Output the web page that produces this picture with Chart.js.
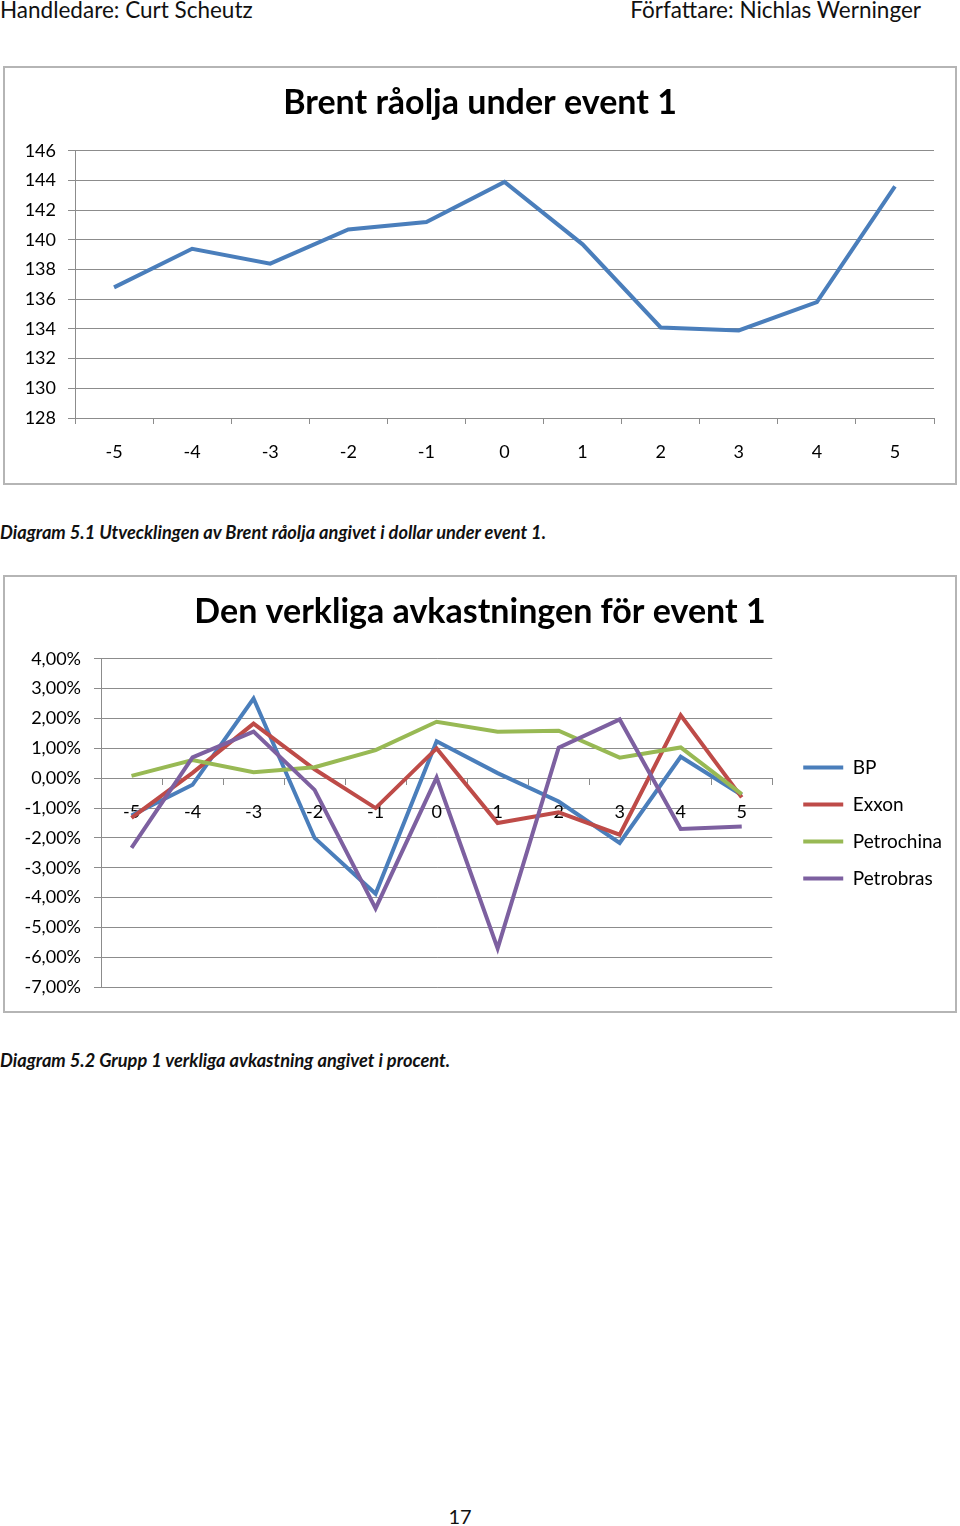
<!DOCTYPE html>
<html>
<head>
<meta charset="utf-8">
<script src="https://cdn.jsdelivr.net/npm/chart.js@4.4.0/dist/chart.umd.min.js"></script>
<style>
  body { margin: 0; background: #fff; font-family: Lato, sans-serif; color: #111; }
  .page { position: relative; width: 960px; height: 1526px; overflow: hidden; }
  .hdr { position: absolute; top: -1px; font-size: 22.5px; line-height: 22px; }
  .box { position: absolute; left: 3px; width: 954px; border: 2px solid #b5b5b5; box-sizing: border-box; }
  .box canvas { display: block; }
  .cap { position: absolute; left: 0; font-style: italic; font-weight: bold; font-size: 18.2px; line-height: 20px; }
  .pnum { position: absolute; left: 430px; width: 60px; text-align: center; top: 1505px; font-size: 20px; line-height: 22px; }
</style>
</head>
<body>
<div class="page">
  <div class="hdr" style="left:0">Handledare: Curt Scheutz</div>
  <div class="hdr" style="right:39px">Författare: Nichlas Werninger</div>

  <div class="box" style="top:66px;height:419px"><canvas id="brent" width="950" height="415"></canvas></div>
  <div class="cap" style="top:522px">Diagram 5.1 Utvecklingen av Brent råolja angivet i dollar under event 1.</div>

  <div class="box" style="top:575px;height:438px"><canvas id="returns" width="950" height="434"></canvas></div>
  <div class="cap" style="top:1050px">Diagram 5.2 Grupp 1 verkliga avkastning angivet i procent.</div>

  <div class="pnum">17</div>
</div>

<script>
// event days
var days = ["-5", "-4", "-3", "-2", "-1", "0", "1", "2", "3", "4", "5"];

// Brent crude, dollar
var brent = [136.8, 139.4, 138.4, 140.7, 141.2, 143.9, 139.7, 134.1, 133.9, 135.8, 143.6];

// actual returns, percent
var bp         = [-1.25, -0.22, 2.67, -2.00, -3.87, 1.24, 0.17, -0.78, -2.17, 0.72, -0.56];
var exxon      = [-1.33, 0.18, 1.83, 0.30, -1.00, 1.00, -1.50, -1.14, -1.89, 2.11, -0.64];
var petrochina = [0.08, 0.61, 0.20, 0.37, 0.94, 1.89, 1.56, 1.59, 0.69, 1.03, -0.53];
var petrobras  = [-2.33, 0.70, 1.56, -0.39, -4.36, 0.02, -5.70, 1.02, 1.97, -1.70, -1.62];

var gridGray = "#8c8c8c";
var tickFont = { family: "Lato", size: 18 };
var titleFont = { family: "Lato", size: 34, weight: "bold" };

Chart.defaults.color = "#000";
Chart.defaults.font.family = "Lato";

// invisible axis used only to reserve some room
function spacer(w) {
    return {
        position: "right",
        display: true,
        grid: { display: false },
        border: { display: false },
        ticks: { display: false },
        afterFit: function(s) { s.width = w; }
    };
}

new Chart(document.getElementById("brent"), {
    type: "line",
    data: {
        labels: days,
        datasets: [{
            data: brent,
            borderColor: "#4a7ebb",
            borderWidth: 4,
            pointRadius: 0,
            tension: 0
        }]
    },
    options: {
        responsive: false,
        animation: false,
        layout: { padding: 0 },
        plugins: {
            legend: { display: false },
            tooltip: { enabled: false },
            title: {
                display: true,
                text: "Brent råolja under event 1",
                font: titleFont,
                color: "#000",
                padding: { top: 15, bottom: 27 }
            }
        },
        scales: {
            x: {
                offset: true,
                grid: { offset: true, drawOnChartArea: false, drawTicks: true, tickLength: 6, color: gridGray },
                border: { color: gridGray },
                ticks: { font: tickFont, padding: 17, maxRotation: 0 },
                afterFit: function(s) { s.height = 65; }
            },
            y: {
                min: 128,
                max: 146,
                ticks: { stepSize: 2, font: tickFont, padding: 12 },
                grid: { color: gridGray, tickLength: 7 },
                border: { color: gridGray },
                afterFit: function(s) { s.width = 70; }
            },
            pad: spacer(21)
        }
    }
});

function pct(v) {
    return v.toFixed(2).replace(".", ",") + "%";
}

new Chart(document.getElementById("returns"), {
    type: "line",
    data: {
        labels: days,
        datasets: [
            { label: "BP", data: bp, borderColor: "#4a7ebb", backgroundColor: "#4a7ebb", borderWidth: 4, order: 3 },
            { label: "Exxon", data: exxon, borderColor: "#be4b48", backgroundColor: "#be4b48", borderWidth: 4, order: 2 },
            { label: "Petrochina", data: petrochina, borderColor: "#98b954", backgroundColor: "#98b954", borderWidth: 4, order: 1 },
            { label: "Petrobras", data: petrobras, borderColor: "#7d60a0", backgroundColor: "#7d60a0", borderWidth: 4, order: 0 }
        ]
    },
    options: {
        responsive: false,
        animation: false,
        elements: {
            line: { tension: 0 },
            point: { radius: 0 }
        },
        layout: { padding: { left: 3, right: 3, top: 0, bottom: 21 } },
        plugins: {
            tooltip: { enabled: false },
            title: {
                display: true,
                text: "Den verkliga avkastningen för event 1",
                font: titleFont,
                color: "#000",
                padding: { top: 15, bottom: 26 }
            },
            legend: {
                position: "right",
                fullSize: false,
                maxWidth: 300,
                labels: {
                    font: { family: "Lato", size: 19 },
                    padding: 18,
                    usePointStyle: true,
                    pointStyle: "line",
                    pointStyleWidth: 40,
                    sort: function(a, b) { return a.datasetIndex - b.datasetIndex; }
                }
            }
        },
        scales: {
            x: {
                position: { y: 0 },
                offset: true,
                grid: { offset: true, drawOnChartArea: false, drawTicks: true, tickLength: 6, color: gridGray },
                border: { color: gridGray },
                ticks: { font: tickFont, padding: 17, maxRotation: 0 }
            },
            y: {
                min: -7,
                max: 4,
                ticks: { stepSize: 1, font: tickFont, padding: 13, callback: function(v) { return pct(v); } },
                grid: { color: gridGray, tickLength: 7 },
                border: { color: gridGray },
                afterFit: function(s) { s.width = 93; }
            },
            gap: spacer(13)
        }
    }
});
</script>
</body>
</html>
